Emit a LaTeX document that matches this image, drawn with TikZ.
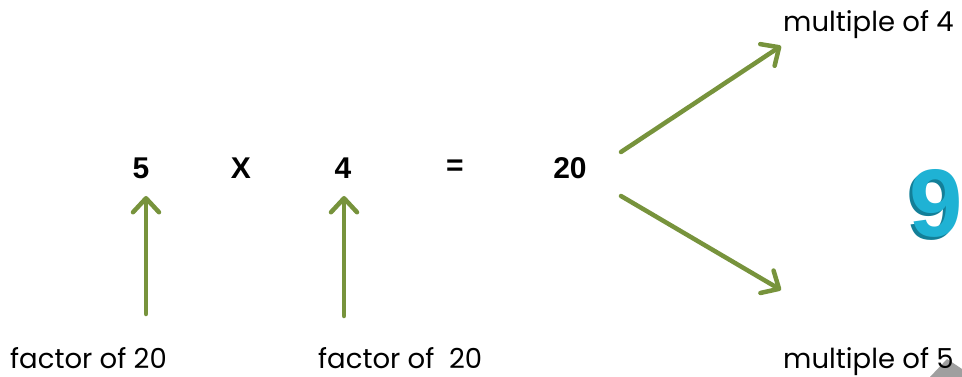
\documentclass[tikz,border=0pt]{standalone}
\usepackage{fontspec}
\setmainfont{Poppins}
\newfontfamily\numfont{Liberation Sans}
\usetikzlibrary{arrows.meta}
\definecolor{olive}{HTML}{77933C}
\definecolor{tealA}{HTML}{1FB2D4}
\definecolor{tealB}{HTML}{137F98}
\tikzset{
  num/.style={font=\numfont\bfseries\fontsize{30}{30}\selectfont, inner sep=0pt},
  lbl/.style={font=\fontsize{27.5}{28}\selectfont, inner sep=0pt, anchor=base west},
  garrow/.style={draw=olive, line width=4.5pt, line cap=round,
    -{Straight Barb[length=14pt, width=26pt, line width=4.5pt, round]}},
}
\begin{document}
\begin{tikzpicture}[x=1pt,y=-1pt]
\useasboundingbox (0,0) rectangle (962,377);
\fill[gray!75] (930,377) -- (947,359) -- (962,369) -- (962,377) -- cycle;

\node[num] (n5) at (141,168) {5};
\node[num] (nx) at (241,168) {X};
\node[num] (n4) at (343,168) {4};
\node[num] (eq) at (455,168) {=};
\node[num] (n20) at (570,168) {20};

\node[lbl] (f1) at (10,368) {factor of 20};
\node[lbl] (f2) at (318,368) {factor of \ 20};
\node[lbl] (m4) at (783,32) {multiple of 4};
\node[lbl] (m5) at (783,368) {multiple of 5};

\coordinate (a1s) at (146,314);
\coordinate (a1e) at (146,196);
\coordinate (a2s) at (344,316);
\coordinate (a2e) at (344,196);
\coordinate (b1s) at (621,152);
\coordinate (b1e) at (781,46);
\coordinate (b2s) at (621,196);
\coordinate (b2e) at (781,290);
\draw[garrow] (a1s) -- (a1e);
\draw[garrow] (a2s) -- (a2e);
\draw[garrow] (b1s) -- (b1e);
\draw[garrow] (b2s) -- (b2e);

\node[font=\numfont\bfseries\fontsize{96}{96}\selectfont, inner sep=0pt] (nine) at (936,205)
  {\textcolor{tealB}{\rlap{\kern-3pt\raisebox{-3pt}{9}}}\textcolor{tealA}{9}};
\end{tikzpicture}
\end{document}
